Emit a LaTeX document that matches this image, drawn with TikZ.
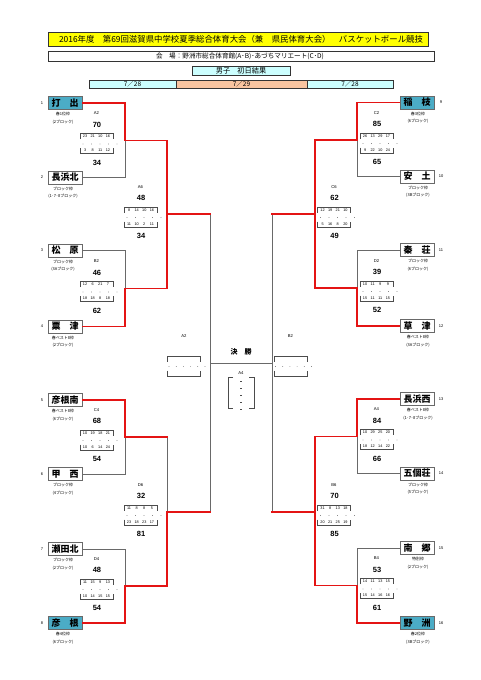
\documentclass[tikz,border=0pt]{standalone}
\usepackage{fontspec}
\setmainfont{Liberation Sans}
\newfontfamily\jp{Noto Sans CJK JP}
\definecolor{hdryel}{RGB}{255,255,0}
\definecolor{lcyan}{RGB}{204,255,255}
\definecolor{peach}{RGB}{248,196,160}
\definecolor{seedc}{RGB}{75,172,198}
\definecolor{lnc}{RGB}{105,105,105}
\definecolor{redl}{RGB}{228,20,20}
\newcommand{\fs}[1]{\fontsize{#1}{#1}\selectfont}
\tikzset{
 wline/.style={draw=redl, line width=1.4pt, line cap=rect},
 gline/.style={draw=lnc, line width=0.8pt, line cap=rect},
 bline/.style={draw=black!70, line width=0.55pt},
 teambox/.style={draw=lnc, line width=0.9pt, fill=white, minimum width=34pt, minimum height=13pt, inner sep=0pt, font=\jp\bfseries\fs{9}},
 seedbox/.style={teambox, fill=seedc},
 subtxt/.style={font=\jp\fs{4}, inner sep=0pt},
 numtxt/.style={font=\fs{4}, inner sep=0pt},
 labtxt/.style={font=\fs{4.2}, inner sep=0pt},
 qtxt/.style={font=\fs{3.8}, inner sep=0pt},
 scoretxt/.style={font=\bfseries\fs{7.5}, inner sep=0pt},
 hdrbox/.style={draw=black!80, line width=0.6pt, inner sep=0pt},
}
\newcommand{\TeamL}[7]{%
 \node[#5] (#1) at (65,#2) {#4};
 \node[numtxt] (#1n) at (42,#2) {#3};
 \node[subtxt] (#1a) at (63,{#2+11}) {#6};
 \node[subtxt] (#1b) at (63,{#2+19}) {#7};}
\newcommand{\TeamR}[7]{%
 \node[#5] (#1) at (417,#2) {#4};
 \node[numtxt] (#1n) at (441,#2) {#3};
 \node[subtxt] (#1a) at (418,{#2+11}) {#6};
 \node[subtxt] (#1b) at (418,{#2+19}) {#7};}
\newcommand{\BoxFrame}[2]{%
 \draw[bline] ({#1-16.5},{#2-1.5}) -- ({#1-16.5},{#2-7}) -- ({#1+16.5},{#2-7}) -- ({#1+16.5},{#2-1.5});
 \draw[bline] ({#1-16.5},{#2+7.5}) -- ({#1-16.5},{#2+13}) -- ({#1+16.5},{#2+13}) -- ({#1+16.5},{#2+7.5});}
\newcommand{\ScoreBox}[8]{%
 \node[labtxt] (#8l) at (#1,{#2-27}) {#3};
 \node[scoretxt] (#8a) at ({#1+0.5},{#2-16}) {#4};
 \BoxFrame{#1}{#2}
 \foreach \v [count=\i] in {#5} \node[qtxt] (#8t\i) at ({#1-11.4+(\i-1)*7.6},{#2-4}) {\v};
 \foreach \v [count=\i] in {#7} \node[qtxt] (#8u\i) at ({#1-11.4+(\i-1)*7.6},{#2+10}) {\v};
 \foreach \i in {0,...,4} \fill[black!70] ({#1-13.5+\i*8.5},{#2+3.5}) circle (0.35pt);
 \node[scoretxt] (#8b) at ({#1+0.5},{#2+22}) {#6};}
\newcommand{\EmptyBox}[4]{%
 \node[labtxt] (#4l) at (#1,{#2-27}) {#3};
 \BoxFrame{#1}{#2}
 \foreach \i in {0,...,5} \fill[black!70] ({#1-15+\i*7.2},{#2+3.5}) circle (0.35pt);}
\begin{document}
\begin{tikzpicture}[x=1pt,y=-1pt]
\useasboundingbox (0,0) rectangle (481,680);
\fill[white] (0,0) rectangle (481,680);
% header
\node[hdrbox, fill=hdryel, minimum width=380pt, minimum height=14pt] (title) at (238,39) {};
\node[font=\jp\fs{8.4}, inner sep=0pt] (titletxt) at (241,39) {2016年度　第69回滋賀県中学校夏季総合体育大会（兼　県民体育大会）　バスケットボール競技};
\node[hdrbox, fill=white, minimum width=386pt, minimum height=10pt] (venue) at (241,56) {};
\node[font=\jp\fs{6.6}, inner sep=0pt] (venuetxt) at (240,56) {会　場：野洲市総合体育館(A･B)･あづちマリエート(C･D)};
\node[hdrbox, fill=lcyan, minimum width=98pt, minimum height=9pt, font=\jp\fs{7.2}] (boys) at (241,70.5) {男子　初日結果};
\node[hdrbox, fill=lcyan, minimum width=87pt, minimum height=8pt, font=\jp\fs{6.5}] (d1) at (132.5,84) {7／28};
\node[hdrbox, fill=peach, minimum width=131pt, minimum height=8pt, font=\jp\fs{6.5}] (d2) at (241.5,84) {7／29};
\node[hdrbox, fill=lcyan, minimum width=86pt, minimum height=8pt, font=\jp\fs{6.5}] (d3) at (350,84) {7／28};
% teams
\TeamL{t1}{103}{1}{打　出}{seedbox}{春1位枠}{(2ブロック)}
\TeamL{t2}{177.5}{2}{長浜北}{teambox}{ブロック枠}{(1･7･8ブロック)}
\TeamL{t3}{250.5}{3}{松　原}{teambox}{ブロック枠}{(3Aブロック)}
\TeamL{t4}{326.5}{4}{粟　津}{teambox}{春ベスト8枠}{(2ブロック)}
\TeamL{t5}{400}{5}{彦根南}{teambox}{春ベスト8枠}{(6ブロック)}
\TeamL{t6}{474}{6}{甲　西}{teambox}{ブロック枠}{(4ブロック)}
\TeamL{t7}{549}{7}{瀬田北}{teambox}{ブロック枠}{(2ブロック)}
\TeamL{t8}{623}{8}{彦　根}{seedbox}{春4位枠}{(6ブロック)}
\TeamR{t9}{102.5}{9}{稲　枝}{seedbox}{春3位枠}{(6ブロック)}
\TeamR{t10}{176.5}{10}{安　土}{teambox}{ブロック枠}{(3Bブロック)}
\TeamR{t11}{250}{11}{秦　荘}{teambox}{ブロック枠}{(6ブロック)}
\TeamR{t12}{326}{12}{草　津}{teambox}{春ベスト8枠}{(3Aブロック)}
\TeamR{t13}{399}{13}{長浜西}{teambox}{春ベスト8枠}{(1･7･8ブロック)}
\TeamR{t14}{473.5}{14}{五個荘}{teambox}{ブロック枠}{(5ブロック)}
\TeamR{t15}{548}{15}{南　郷}{teambox}{特別枠}{(2ブロック)}
\TeamR{t16}{623}{16}{野　洲}{seedbox}{春2位枠}{(3Bブロック)}
% junctions
\coordinate (L1) at (125,140.5); \coordinate (L1o) at (167,140.5);
\coordinate (L2) at (125,288.5); \coordinate (L2o) at (167,288.5);
\coordinate (L3) at (125,437);   \coordinate (L3o) at (167,437);
\coordinate (L4) at (125,586);   \coordinate (L4o) at (167,586);
\coordinate (LA) at (167,214);   \coordinate (LAo) at (210,214);
\coordinate (LB) at (167,512);   \coordinate (LBo) at (210,512);
\coordinate (LS) at (210,363);
\coordinate (R1) at (357,140);   \coordinate (R1o) at (315,140);
\coordinate (R2) at (357,288);   \coordinate (R2o) at (315,288);
\coordinate (R3) at (357,436.5); \coordinate (R3o) at (315,436.5);
\coordinate (R4) at (357,585.5); \coordinate (R4o) at (315,585.5);
\coordinate (RA) at (315,214);   \coordinate (RAo) at (272,214);
\coordinate (RB) at (315,512);   \coordinate (RBo) at (272,512);
\coordinate (RS) at (272,363);
% grey lines
\draw[gline] (t2.east) -| (L1);
\draw[gline] (t3.east) -| (L2);
\draw[gline] (t6.east) -| (L3);
\draw[gline] (t7.east) -| (L4);
\draw[gline] (L3o) -- (LB);
\draw[gline] (LAo) -- (LBo);
\draw[gline] (t10.west) -| (R1);
\draw[gline] (t11.west) -| (R2);
\draw[gline] (t14.west) -| (R3);
\draw[gline] (t15.west) -| (R4);
\draw[gline] (RAo) -- (RBo);
\draw[gline] (LS) -- (RS);
% red lines
\draw[wline] (t1.east) -| (L1) -- (L1o);
\draw[wline] (t4.east) -| (L2) -- (L2o);
\draw[wline] (L1o) -- (L2o);
\draw[wline] (LA) -- (LAo);
\draw[wline] (t5.east) -| (L3) -- (L3o);
\draw[wline] (t8.east) -| (L4) -- (L4o);
\draw[wline] (LB) -- (L4o);
\draw[wline] (LB) -- (LBo);
\draw[wline] (t9.west) -| (R1) -- (R1o);
\draw[wline] (t12.west) -| (R2) -- (R2o);
\draw[wline] (R1o) -- (R2o);
\draw[wline] (RA) -- (RAo);
\draw[wline] (t13.west) -| (R3) -- (R3o);
\draw[wline] (t16.west) -| (R4) -- (R4o);
\draw[wline] (R3o) -- (R4o);
\draw[wline] (RB) -- (RBo);
% score boxes
\ScoreBox{96.5}{140.5}{A2}{70}{23,21,10,16}{34}{3,8,11,12}{m1}
\ScoreBox{96.5}{288.5}{B2}{46}{12,6,21,7}{62}{18,18,8,18}{m2}
\ScoreBox{96.5}{437}{C4}{68}{10,19,18,21}{54}{10,6,14,24}{m3}
\ScoreBox{96.5}{586}{D4}{48}{11,15,9,13}{54}{10,14,15,15}{m4}
\ScoreBox{140.5}{214}{A6}{48}{8,14,10,16}{34}{11,10,2,11}{m5}
\ScoreBox{140.5}{512}{D6}{32}{11,8,8,5}{81}{23,18,23,17}{m6}
\ScoreBox{376.5}{140}{C2}{85}{26,13,29,17}{65}{9,22,10,24}{m7}
\ScoreBox{376.5}{288}{D2}{39}{10,11,9,9}{52}{15,11,11,15}{m8}
\ScoreBox{376.5}{436.5}{A4}{84}{10,29,25,20}{66}{18,12,14,22}{m9}
\ScoreBox{376.5}{585.5}{B4}{53}{14,11,13,15}{61}{15,14,16,16}{m10}
\ScoreBox{334}{214}{C6}{62}{12,19,21,10}{49}{5,16,8,20}{m11}
\ScoreBox{334}{512}{B6}{70}{31,8,13,18}{85}{20,21,25,19}{m12}
\EmptyBox{184}{363}{A2}{s1}
\EmptyBox{290.5}{363}{B2}{s2}
% final
\node[font=\jp\bfseries\fs{7}, inner sep=0pt] (final) at (241,352) {決　勝};
\node[labtxt] (finlab) at (241,373) {A4};
\draw[bline] (233,377) -- (228,377) -- (228,408) -- (233,408);
\draw[bline] (249,377) -- (254,377) -- (254,408) -- (249,408);
\foreach \yy in {381,388,395,402,409} \draw[bline] (240.2,\yy) -- (241.8,\yy);
\end{tikzpicture}
\end{document}
